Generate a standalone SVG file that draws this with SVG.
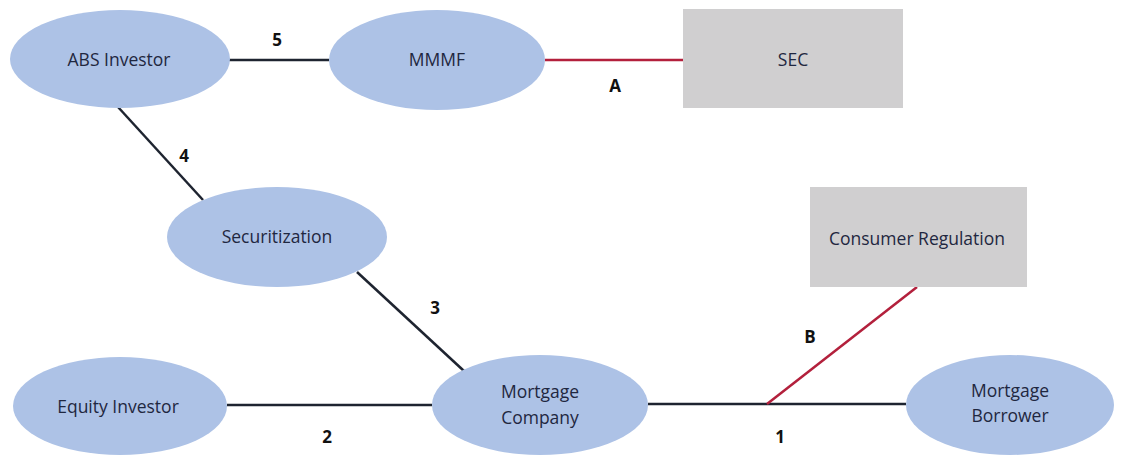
<svg xmlns="http://www.w3.org/2000/svg" width="1122" height="457" viewBox="0 0 1122 457">
<style>
.node ellipse{fill:#adc2e6;}
.box rect{fill:#d0cfd0;}
text{font-family:"Open Sans","Liberation Sans",sans-serif;font-size:17.5px;fill:#1f2740;text-anchor:middle;dominant-baseline:middle;}
.lbl{font-weight:bold;font-size:17px;fill:#111;}
.blk{stroke:#1e2430;stroke-width:2.5;fill:none;}
.red{stroke:#b3203c;stroke-width:2.5;fill:none;}
</style>
<rect width="1122" height="457" fill="#ffffff"/>
<g id="connectors">
<line class="blk" x1="229" y1="60" x2="329" y2="60"/>
<line class="red" x1="545" y1="60" x2="684" y2="60"/>
<line class="blk" x1="118" y1="107" x2="203" y2="200"/>
<line class="blk" x1="357" y1="272" x2="464" y2="371"/>
<line class="blk" x1="227" y1="405" x2="432" y2="405"/>
<line class="blk" x1="648" y1="404" x2="906" y2="404"/>
<line class="red" x1="767" y1="404" x2="917" y2="287"/>
<text class="lbl" x="277" y="41">5</text>
<text class="lbl" x="615" y="87">A</text>
<text class="lbl" x="184" y="157">4</text>
<text class="lbl" x="435" y="309">3</text>
<text class="lbl" x="327" y="438">2</text>
<text class="lbl" x="780" y="438">1</text>
<text class="lbl" x="810" y="338">B</text>
</g>
<g id="abs-investor" class="node"><ellipse cx="120" cy="59" rx="110" ry="49"/><text x="119" y="61">ABS Investor</text></g>
<g id="mmmf" class="node"><ellipse cx="437" cy="60" rx="108" ry="50"/><text x="437" y="61">MMMF</text></g>
<g id="sec" class="box"><rect x="683" y="9" width="220" height="99"/><text x="793" y="61">SEC</text></g>
<g id="securitization" class="node"><ellipse cx="277" cy="237" rx="110" ry="50"/><text x="277" y="238">Securitization</text></g>
<g id="consumer-regulation" class="box"><rect x="810" y="187" width="217" height="100"/><text x="917" y="240">Consumer Regulation</text></g>
<g id="equity-investor" class="node"><ellipse cx="120" cy="406" rx="107" ry="49"/><text x="118" y="408">Equity Investor</text></g>
<g id="mortgage-company" class="node"><ellipse cx="540" cy="405" rx="108" ry="50"/><text x="540" y="393">Mortgage</text><text x="540" y="419">Company</text></g>
<g id="mortgage-borrower" class="node"><ellipse cx="1010" cy="405" rx="104" ry="50"/><text x="1010" y="392">Mortgage</text><text x="1010" y="417">Borrower</text></g>
</svg>
